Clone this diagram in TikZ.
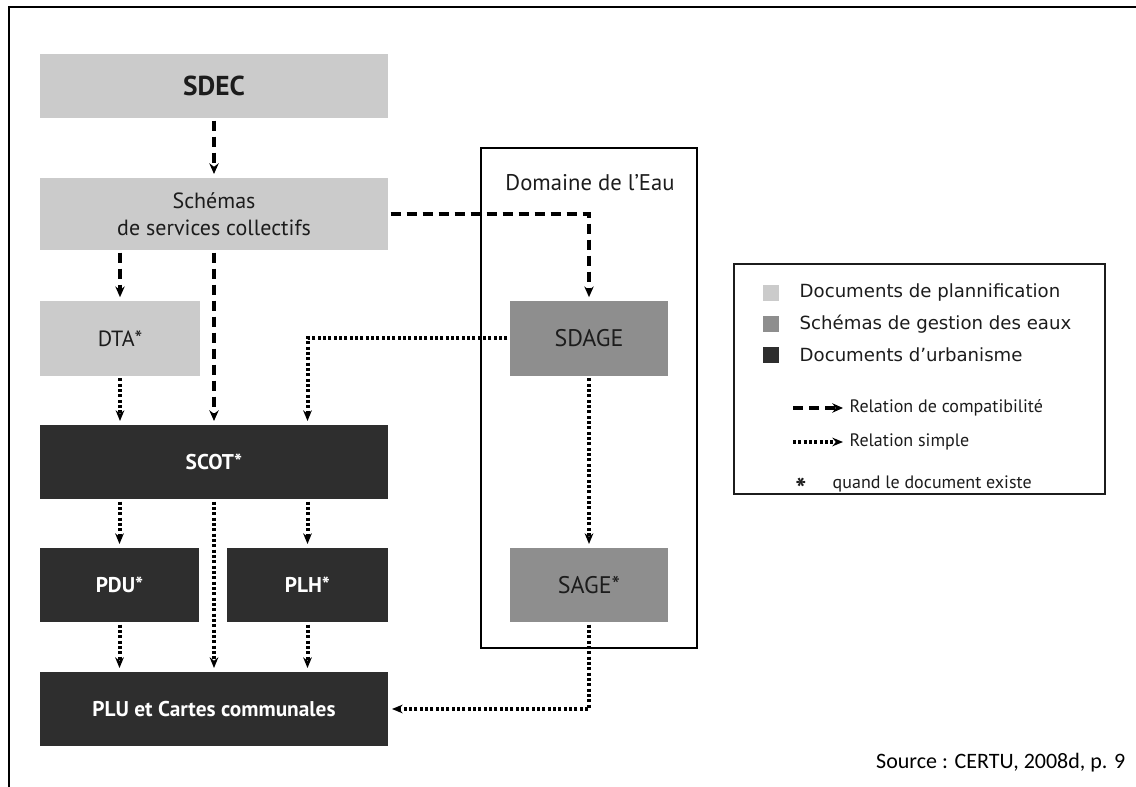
\documentclass[tikz,border=0pt]{standalone}
\usepackage{fontspec}
\setmainfont{PT Sans}
\newfontfamily\legendfont{DejaVu Sans}
\newfontfamily\sourcefont{Carlito}
\usetikzlibrary{arrows.meta}
\definecolor{planif}{HTML}{CBCBCB}
\definecolor{eaux}{HTML}{8E8E8E}
\definecolor{urba}{HTML}{2E2E2E}
\definecolor{ink}{HTML}{1C1C1C}
\begin{document}
\begin{tikzpicture}[x=0.75pt, y=-0.75pt,
    box/.style={inner sep=0pt, outer sep=0pt, align=center, text=ink},
    planbox/.style={box, fill=planif, font=\fontsize{16.5}{20}\selectfont},
    eaubox/.style={box, fill=eaux, font=\fontsize{18}{20}\selectfont},
    urbabox/.style={box, fill=urba, text=white, font=\bfseries\fontsize{16}{19}\selectfont},
    compat/.style={line width=3pt, dash pattern=on 7.5pt off 4.5pt,
        -{Stealth[length=8pt, width=7pt]}, shorten <=2pt, shorten >=3pt},
    simple/.style={line width=3pt, dash pattern=on 2.2pt off 1.8pt,
        -{Stealth[length=8pt, width=6.5pt]}, shorten <=2pt, shorten >=3pt},
    legtext/.style={anchor=west, text=ink, font=\legendfont\fontsize{13.6}{16}\selectfont},
    reltext/.style={anchor=west, text=ink, font=\fontsize{13.5}{16}\selectfont},
    carre/.style={minimum size=12pt, inner sep=0pt}]
\useasboundingbox (0,0) rectangle (1136,787);
\draw[line width=2.2pt] (9,787) -- (9,7) -- (1136,7);

% documents de planification
\node[planbox, minimum width=261pt, minimum height=48pt, font=\bfseries\fontsize{20.5}{24}\selectfont] (sdec) at (214,86) {SDEC};
\node[planbox, minimum width=261pt, minimum height=54pt] (schemas) at (214,214) {Schémas\\de services collectifs};
\node[planbox, minimum width=120pt, minimum height=56pt] (dta) at (120,338.5) {DTA*};

% documents d'urbanisme
\node[urbabox, minimum width=261pt, minimum height=55.5pt] (scot) at (214,462) {SCOT*};
\node[urbabox, minimum width=119.25pt, minimum height=55.5pt] (pdu) at (119.5,585) {PDU*};
\node[urbabox, minimum width=120.75pt, minimum height=55.5pt] (plh) at (307.5,585) {PLH*};
\node[urbabox, minimum width=261pt, minimum height=55.5pt] (plu) at (214,709) {PLU et Cartes communales};

% domaine de l'eau
\node[draw, line width=1pt, minimum width=162pt, minimum height=375pt, inner sep=0pt, outer sep=0pt] (eau) at (589,398) {};
\node[text=ink, font=\fontsize{17}{20}\selectfont] (eautitre) at (590,183) {Domaine de l’Eau};
\node[eaubox, minimum width=118.5pt, minimum height=56pt] (sdage) at (589,338.5) {SDAGE};
\node[eaubox, minimum width=118.5pt, minimum height=55.5pt] (sage) at (589,585) {SAGE*};

% relations
\draw[compat] (sdec) -- (schemas);
\draw[compat] (schemas.south -| dta.north) -- (dta.north);
\draw[compat] (schemas.south) -- (scot.north);
\draw[compat] (schemas.east) -| (sdage.north);
\draw[simple] (dta.south) -- (dta.south |- scot.north);
\draw[simple] (sdage.west) -| (plh.north |- scot.north);
\draw[simple] (sdage.south) -- (sage.north);
\draw[simple] (scot.south -| pdu.north) -- (pdu.north);
\draw[simple] (scot.south) -- (plu.north);
\draw[simple] (scot.south -| plh.north) -- (plh.north);
\draw[simple] (pdu.south) -- (pdu.south |- plu.north);
\draw[simple] (plh.south) -- (plh.south |- plu.north);
\draw[simple] (sage.south) |- (plu.east);

% legende
\node[draw=ink, line width=0.9pt, minimum width=278.25pt, minimum height=172.5pt, inner sep=0pt] (legende) at (919.5,379) {};
\node[carre, fill=planif] (carre1) at (771,293) {};
\node[carre, fill=eaux] (carre2) at (771,324) {};
\node[carre, fill=urba] (carre3) at (771,355) {};
\node[legtext] (leg1) at (795,293) {Documents de plannification};
\node[legtext] (leg2) at (795,324) {Schémas de gestion des eaux};
\node[legtext] (leg3) at (795,355) {Documents d’urbanisme};
\coordinate (compatA) at (793,408);
\coordinate (compatB) at (843,408);
\coordinate (simpleA) at (793,442);
\coordinate (simpleB) at (843,442);
\draw[compat, shorten <=0pt, shorten >=0pt] (compatA) -- (compatB);
\draw[simple, shorten <=0pt, shorten >=0pt] (simpleA) -- (simpleB);
\node[reltext] (leg4) at (845,408) {Relation de compatibilité};
\node[reltext] (leg5) at (845,442) {Relation simple};
\node[text=ink, font=\bfseries\fontsize{22}{22}\selectfont] (etoile) at (801,489) {*};
\node[reltext] (leg6) at (828,484) {quand le document existe};

\node[anchor=east, text=black, font=\sourcefont\fontsize{16.5}{19}\selectfont] (source) at (1130,763) {Source : CERTU, 2008d, p. 9};
\end{tikzpicture}
\end{document}
